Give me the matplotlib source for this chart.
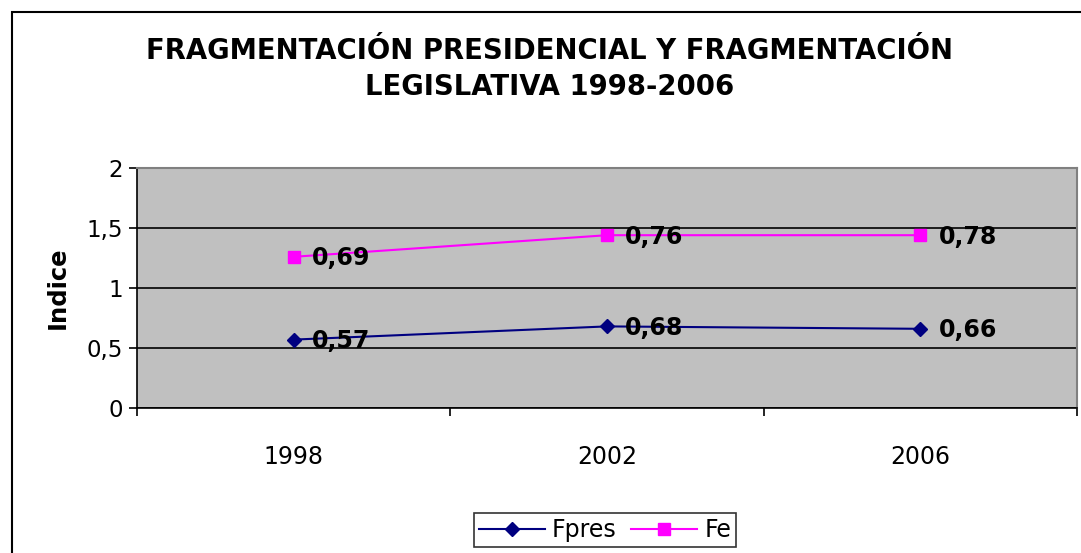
import numpy as np
import matplotlib.pyplot as plt
from matplotlib.patches import Rectangle
from matplotlib.ticker import FuncFormatter, FixedLocator

years = ["1998", "2002", "2006"]
fpres = [0.57, 0.68, 0.66]
fe = [0.69, 0.76, 0.78]

# stacked line chart: Fe is drawn on top of Fpres
x = np.arange(len(years))
fe_stacked = np.array(fpres) + np.array(fe)

fig = plt.figure(figsize=(10.81, 5.53), dpi=100)
fig.patches.append(Rectangle((12 / 1081, -0.01), 1.02, 0.978 + 0.01,
                             transform=fig.transFigure, fill=False,
                             edgecolor="black", linewidth=1.5))

ax = fig.add_axes([137 / 1081, 1 - 408 / 553, 940 / 1081, 240 / 553])
ax.set_facecolor("#C0C0C0")

ax.plot(x, fpres, color="#000080", marker="D", markersize=7, linewidth=1.5, label="Fpres")
ax.plot(x, fe_stacked, color="#FF00FF", marker="s", markersize=8, linewidth=1.5, label="Fe")

for xi, yi, v in zip(x, fpres, fpres):
    ax.annotate(f"{v:.2f}".replace(".", ","), (xi, yi), xytext=(13, -1),
                textcoords="offset points", ha="left", va="center",
                fontsize=17, fontweight="bold")
for xi, yi, v in zip(x, fe_stacked, fe):
    ax.annotate(f"{v:.2f}".replace(".", ","), (xi, yi), xytext=(13, -1),
                textcoords="offset points", ha="left", va="center",
                fontsize=17, fontweight="bold")

ax.set_xlim(-0.5, 2.5)
ax.set_ylim(0, 2)
ax.set_yticks([0, 0.5, 1, 1.5, 2])
ax.yaxis.set_major_formatter(FuncFormatter(lambda v, p: f"{v:g}".replace(".", ",")))
ax.grid(axis="y", color="black", linewidth=1.2)
ax.set_axisbelow(True)

ax.set_xticks(x)
ax.set_xticklabels(years)
ax.xaxis.set_minor_locator(FixedLocator([-0.5, 0.5, 1.5, 2.5]))
ax.tick_params(axis="x", which="major", length=0, pad=27, labelsize=17)
ax.tick_params(axis="x", which="minor", length=6, width=1.2, direction="out")
ax.tick_params(axis="y", length=6, width=1.2, labelsize=16.5, pad=4)

for s in ["left", "bottom"]:
    ax.spines[s].set_color("black")
    ax.spines[s].set_linewidth(1.2)
for s in ["top", "right"]:
    ax.spines[s].set_color("#808080")
    ax.spines[s].set_linewidth(1.5)

ax.set_ylabel("Indice", fontsize=17.5, fontweight="bold", labelpad=12)

fig.text(550 / 1081, 1 - 69 / 553,
         "FRAGMENTACIÓN PRESIDENCIAL Y FRAGMENTACIÓN\nLEGISLATIVA 1998-2006",
         ha="center", va="center", fontsize=19.8, fontweight="bold", linespacing=1.35)

leg = fig.legend(loc="center", bbox_to_anchor=(605 / 1081, 1 - 530 / 553), ncol=2,
                 fontsize=17, frameon=True, fancybox=False, edgecolor="black",
                 handlelength=2.8, handletextpad=0.3, columnspacing=0.6,
                 borderpad=0.2)
leg.get_frame().set_linewidth(1.2)

fig.savefig("out.png", dpi=100)
